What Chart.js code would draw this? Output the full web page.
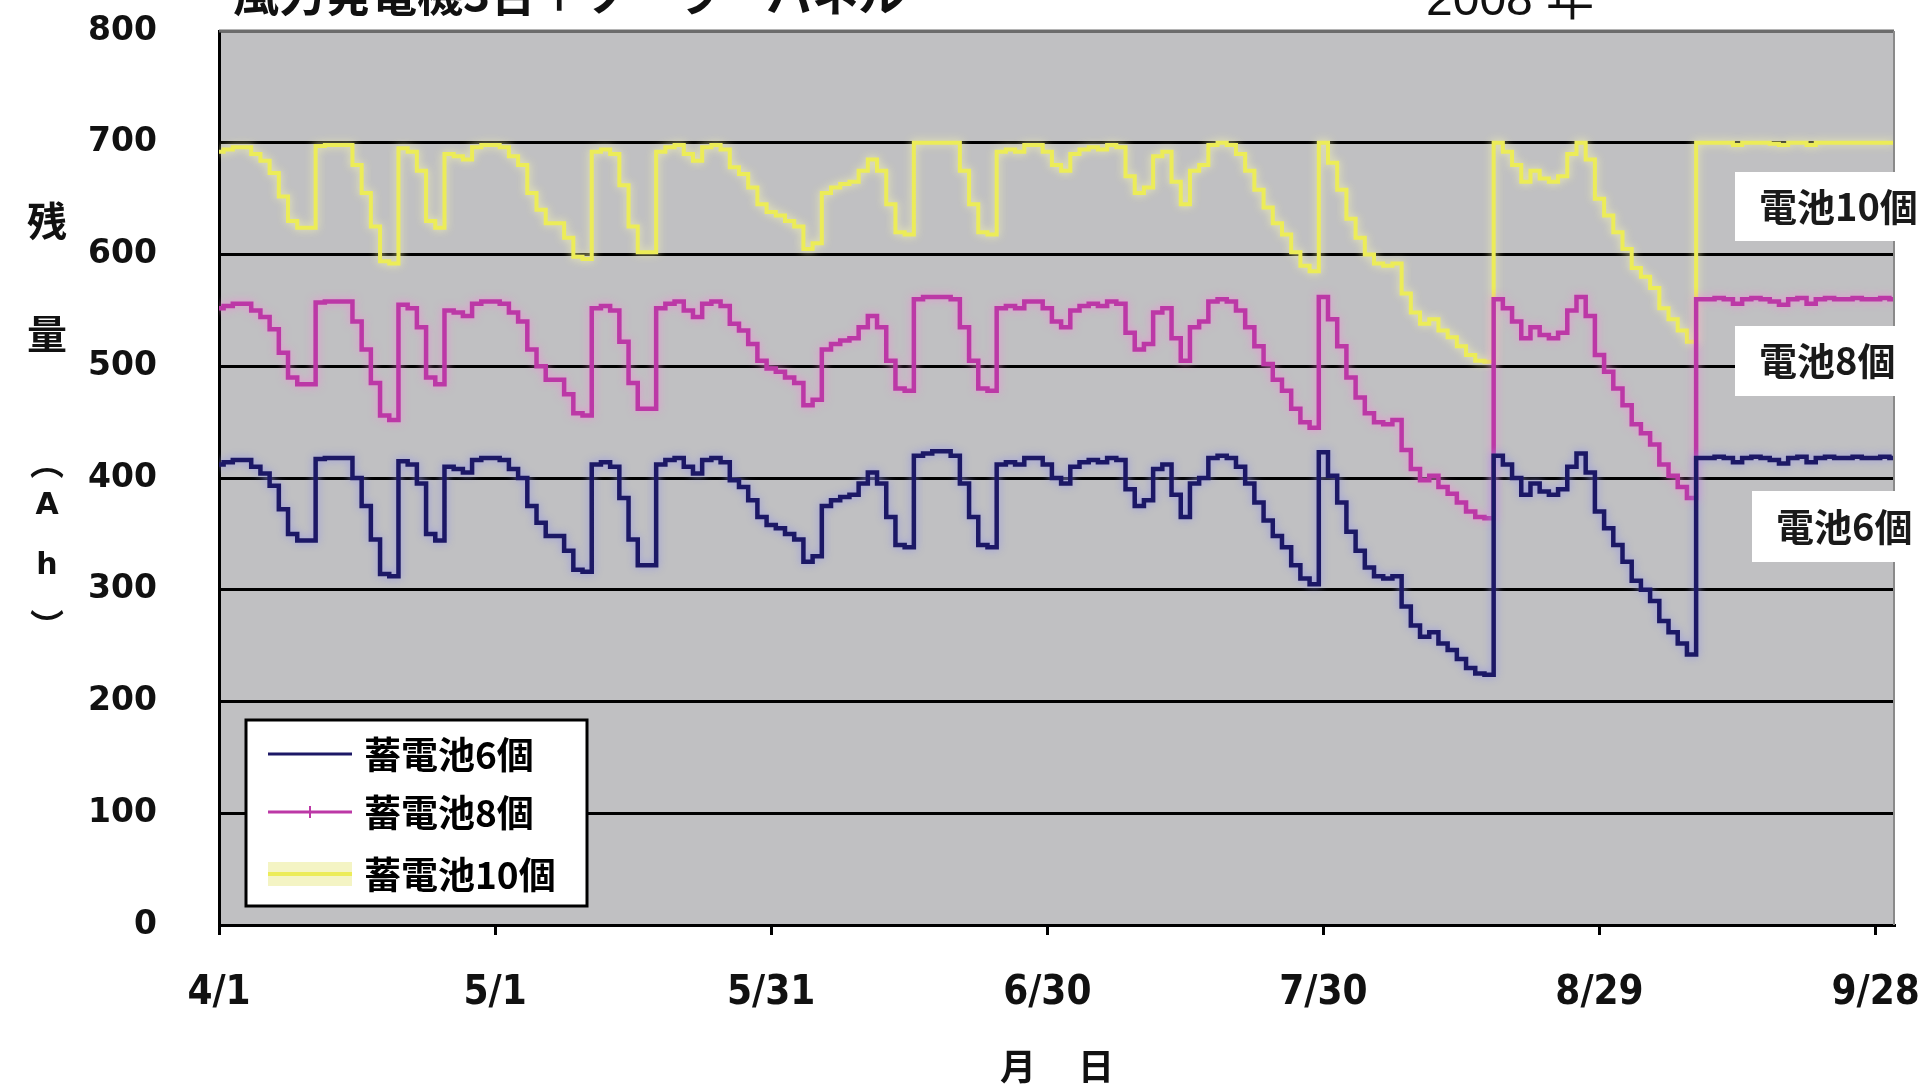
<!DOCTYPE html>
<html lang="ja">
<head>
<meta charset="utf-8">
<title>蓄電池残量</title>
<script src="https://cdn.jsdelivr.net/npm/chart.js@4.4.1/dist/chart.umd.min.js"></script>
<style>
  html, body { margin: 0; padding: 0; background: #fff; }
  canvas { display: block; }
</style>
</head>
<body>
<canvas id="chart" width="1929" height="1090"></canvas>
<script>
// day index 0 = 4/1, one value per day up to 9/30
const xTickLabels = ['4/1', '5/1', '5/31', '6/30', '7/30', '8/29', '9/28'];
const seriesNames = ['蓄電池6個', '蓄電池8個', '蓄電池10個'];
const sideLabels = ['電池10個', '電池8個', '電池6個'];

const battery6 = [
  412, 414, 416, 416, 410, 404, 393, 372, 350, 344,
  344, 417, 418, 418, 418, 400, 375, 345, 314, 312,
  415, 412, 395, 350, 344, 410, 408, 405, 416, 418,
  418, 416, 408, 400, 375, 360, 348, 348, 335, 318,
  316, 412, 414, 410, 382, 345, 322, 322, 412, 416,
  418, 410, 404, 416, 418, 414, 398, 392, 380, 365,
  358, 355, 350, 345, 325, 330, 375, 380, 383, 385,
  395, 405, 395, 365, 340, 338, 420, 422, 424, 424,
  420, 395, 365, 340, 338, 412, 414, 412, 418, 418,
  412, 400, 395, 410, 414, 416, 414, 418, 416, 390,
  375, 380, 408, 412, 385, 365, 395, 400, 418, 420,
  418, 410, 395, 378, 362, 348, 338, 322, 310, 305,
  423, 402, 378, 352, 335, 320, 312, 310, 312, 285,
  268, 258, 262, 252, 246, 238, 230, 225, 224, 420,
  412, 400, 385, 395, 388, 385, 390, 410, 422, 405,
  370, 355, 340, 325, 308, 300, 290, 272, 262, 252,
  242, 418, 418, 419, 418, 414, 418, 419, 418, 416,
  413, 418, 419, 414, 418, 419, 418, 418, 419, 418,
  418, 419, 418
];

const battery8 = [
  552, 554, 556, 556, 550, 544, 533, 512, 490, 484,
  484, 557, 558, 558, 558, 540, 515, 485, 456, 452,
  555, 552, 535, 490, 484, 550, 548, 545, 556, 558,
  558, 556, 548, 540, 515, 500, 488, 488, 475, 458,
  456, 552, 554, 550, 522, 485, 462, 462, 552, 556,
  558, 550, 544, 556, 558, 554, 538, 532, 520, 505,
  498, 495, 490, 485, 465, 470, 515, 520, 523, 525,
  535, 545, 535, 505, 480, 478, 560, 562, 562, 562,
  560, 535, 505, 480, 478, 552, 554, 552, 558, 558,
  552, 540, 535, 550, 554, 556, 554, 558, 556, 530,
  515, 520, 548, 552, 525, 505, 535, 540, 558, 560,
  558, 550, 535, 518, 502, 488, 478, 462, 450, 445,
  562, 542, 518, 490, 472, 458, 450, 448, 452, 425,
  408, 398, 402, 392, 386, 378, 370, 365, 364, 560,
  552, 540, 525, 535, 528, 525, 530, 550, 562, 545,
  510, 495, 480, 465, 448, 440, 430, 412, 402, 392,
  382, 560, 560, 561, 560, 556, 560, 561, 560, 558,
  555, 560, 561, 556, 560, 561, 560, 560, 561, 560,
  560, 561, 560
];

const battery10 = [
  692, 694, 696, 696, 690, 684, 673, 652, 630, 624,
  624, 697, 698, 698, 698, 680, 655, 625, 594, 592,
  695, 692, 675, 630, 624, 690, 688, 685, 696, 698,
  698, 696, 688, 680, 655, 640, 628, 628, 615, 598,
  596, 692, 694, 690, 662, 625, 602, 602, 692, 696,
  698, 690, 684, 696, 698, 694, 678, 672, 660, 645,
  638, 635, 630, 625, 605, 610, 655, 660, 663, 665,
  675, 685, 675, 645, 620, 618, 700, 700, 700, 700,
  700, 675, 645, 620, 618, 692, 694, 692, 698, 698,
  692, 680, 675, 690, 694, 696, 694, 698, 696, 670,
  655, 660, 688, 692, 665, 645, 675, 680, 698, 700,
  698, 690, 675, 658, 642, 628, 618, 602, 590, 585,
  700, 682, 658, 632, 615, 600, 592, 590, 592, 565,
  548, 538, 542, 532, 526, 518, 510, 505, 504, 700,
  692, 680, 665, 675, 668, 665, 670, 690, 700, 685,
  650, 635, 620, 605, 588, 580, 570, 552, 542, 532,
  522, 700, 700, 700, 700, 698, 700, 700, 700, 699,
  698, 700, 700, 698, 700, 700, 700, 700, 700, 700,
  700, 700, 700
];

const NAVY = '#1c1866';
const MAGENTA = '#bc38a6';
const YELLOW = '#ecec58';
const halos = ['rgba(150,150,230,0.9)', 'rgba(240,140,215,0.9)', 'rgba(245,245,170,0.9)'];

function toPoints(values) {
  return values.map((v, i) => ({ x: i, y: v }));
}

const framePlugin = {
  id: 'frame',
  beforeDraw(chart) {
    const { ctx, chartArea: a } = chart;
    ctx.save();
    ctx.fillStyle = '#fff';
    ctx.fillRect(0, 0, chart.width, chart.height);
    ctx.fillStyle = '#c0c0c2';
    ctx.fillRect(a.left, a.top, a.right - a.left, a.bottom - a.top);
    ctx.restore();
  },
  beforeDatasetDraw(chart, args) {
    const ctx = chart.ctx;
    ctx.save();
    ctx.shadowColor = halos[args.index];
    ctx.shadowBlur = 8;
  },
  afterDatasetDraw(chart) {
    chart.ctx.restore();
  },
  afterDraw(chart) {
    const { ctx, chartArea: a } = chart;
    ctx.save();

    // top / right frame
    ctx.strokeStyle = '#6c6c6c';
    ctx.lineWidth = 3;
    ctx.beginPath();
    ctx.moveTo(a.left, a.top);
    ctx.lineTo(a.right, a.top);
    ctx.stroke();
    ctx.strokeStyle = '#8a8a8a';
    ctx.lineWidth = 2;
    ctx.beginPath();
    ctx.moveTo(a.right, a.top);
    ctx.lineTo(a.right, a.bottom);
    ctx.stroke();

    // cut-off heading at the top
    ctx.fillStyle = '#111';
    ctx.textAlign = 'left';
    ctx.textBaseline = 'ideographic';
    ctx.font = 'bold 46px "Noto Sans CJK JP"';
    ctx.fillText('風力発電機3台＋ソーラーパネル', 233, 17);
    ctx.textBaseline = 'alphabetic';
    ctx.font = '48px "Liberation Sans", "Noto Sans CJK JP"';
    ctx.fillText('2008 年', 1426, 15);

    // y axis title, stacked
    ctx.textAlign = 'center';
    ctx.textBaseline = 'middle';
    ctx.font = 'bold 40px "Noto Sans CJK JP"';
    ctx.fillText('残', 47, 221);
    ctx.fillText('量', 47, 334);
    ctx.font = 'bold 34px "Noto Sans CJK JP"';
    ctx.fillText('︵', 47, 462);
    ctx.fillText('︶', 47, 626);
    ctx.font = 'bold 30px "DejaVu Sans"';
    ctx.fillText('A', 47, 506);
    ctx.fillText('h', 47, 566);

    // x axis title
    ctx.font = 'bold 36px "Noto Sans CJK JP"';
    ctx.fillText('月', 1018, 1066);
    ctx.fillText('日', 1096, 1066);

    // legend box
    const lx = 246, ly = 720, lw = 341, lh = 186;
    ctx.fillStyle = '#fff';
    ctx.fillRect(lx, ly, lw, lh);
    ctx.strokeStyle = '#000';
    ctx.lineWidth = 3;
    ctx.strokeRect(lx, ly, lw, lh);
    const rows = [754, 812, 874];
    const colors = [NAVY, MAGENTA, YELLOW];
    rows.forEach((ry, i) => {
      if (i === 2) {
        ctx.fillStyle = '#f4f4c4';
        ctx.fillRect(268, ry - 12, 84, 24);
      }
      ctx.strokeStyle = colors[i];
      ctx.lineWidth = i === 2 ? 4 : 3;
      ctx.beginPath();
      ctx.moveTo(268, ry);
      ctx.lineTo(352, ry);
      ctx.stroke();
      if (i === 1) {
        ctx.lineWidth = 2;
        ctx.beginPath();
        ctx.moveTo(310, ry - 6);
        ctx.lineTo(310, ry + 6);
        ctx.stroke();
      }
      ctx.fillStyle = '#000';
      ctx.textAlign = 'left';
      ctx.font = 'bold 37px "Noto Sans CJK JP"';
      ctx.fillText(seriesNames[i], 364, ry + 1);
    });

    // white labels on the right
    const boxes = [
      { x: 1735, y: 172, w: 194, h: 69, tx: 1759, ty: 207 },
      { x: 1735, y: 326, w: 166, h: 70, tx: 1759, ty: 361 },
      { x: 1752, y: 491, w: 177, h: 71, tx: 1776, ty: 527 }
    ];
    ctx.font = 'bold 38px "Noto Sans CJK JP"';
    boxes.forEach((b, i) => {
      ctx.fillStyle = '#fff';
      ctx.fillRect(b.x, b.y, b.w, b.h);
      ctx.fillStyle = '#1a1a1a';
      ctx.fillText(sideLabels[i], b.tx, b.ty);
    });

    ctx.restore();
  }
};

const lineStyle = { pointRadius: 0, tension: 0, stepped: 'middle' };

new Chart(document.getElementById('chart').getContext('2d'), {
  type: 'line',
  data: {
    datasets: [
      { label: seriesNames[0], data: toPoints(battery6), borderColor: NAVY, borderWidth: 4.5, ...lineStyle },
      { label: seriesNames[1], data: toPoints(battery8), borderColor: MAGENTA, borderWidth: 4.5, ...lineStyle },
      { label: seriesNames[2], data: toPoints(battery10), borderColor: YELLOW, borderWidth: 4, ...lineStyle }
    ]
  },
  options: {
    responsive: false,
    animation: false,
    devicePixelRatio: 1,
    layout: { padding: { top: 31, right: 35, left: 0, bottom: 0 } },
    plugins: { legend: { display: false }, tooltip: { enabled: false } },
    scales: {
      x: {
        type: 'linear',
        min: 0,
        max: 182,
        afterFit: (s) => { s.height = 165; },
        border: { color: '#000', width: 3 },
        grid: { drawOnChartArea: false, drawTicks: true, tickLength: 10, color: '#000', lineWidth: 3 },
        ticks: {
          stepSize: 30,
          includeBounds: false,
          autoSkip: false,
          maxRotation: 0,
          padding: 4,
          color: '#111',
          font: { family: '"DejaVu Sans Condensed"', weight: 'bold', size: 40, lineHeight: 2.75 },
          callback: (v) => xTickLabels[v / 30] || ''
        }
      },
      y: {
        min: 0,
        max: 800,
        afterFit: (s) => { s.width = 219; },
        border: { color: '#000', width: 3 },
        grid: {
          color: (c) => (c.tick && c.tick.value === 800 ? '#6c6c6c' : '#000'),
          lineWidth: 3,
          tickLength: 58,
          tickColor: 'rgba(0,0,0,0)'
        },
        ticks: {
          stepSize: 100,
          padding: 4,
          color: '#111',
          font: { family: '"DejaVu Sans"', weight: 'bold', size: 33 }
        }
      }
    }
  },
  plugins: [framePlugin]
});
</script>
</body>
</html>
